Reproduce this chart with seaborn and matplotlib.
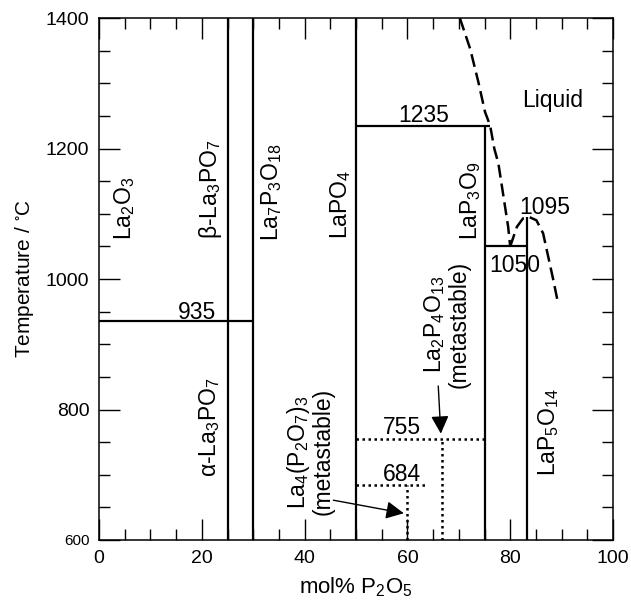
import numpy as np
import pandas as pd
import seaborn as sns
import matplotlib
matplotlib.use("Agg")
import matplotlib.pyplot as plt
from matplotlib.ticker import MultipleLocator

# phase boundaries (mol% P2O5, temperature in C)
vert_x = [25, 30, 50, 75, 83.33]
vert_top = [1400, 1400, 1400, 1235, 1095]
horiz_T = [935, 1235, 1050]
horiz_x0 = [0, 50, 75]
horiz_x1 = [30, 76.1, 83.33]

# metastable (dotted) lines
meta_T = [755, 684]
meta_x0 = [50, 50]
meta_x1 = [75, 63.7]
meta_vx = [66.67, 60]

# liquidus (dashed)
liq1_x = [70.2, 72.2, 73.8, 75.1, 76.1, 76.9, 77.7, 78.7, 79.6, 80.0]
liq1_T = [1400, 1353, 1302, 1256, 1235, 1200, 1177, 1126, 1080, 1050]
liq2_x = [80.0, 81.3, 82.5, 83.7, 85.1, 86.4, 87.4, 88.4, 89.2]
liq2_T = [1050, 1080, 1093, 1095, 1090, 1070, 1034, 998, 967]

# phase labels
phase_names = ["La$_2$O$_3$", "β-La$_3$PO$_7$", "La$_7$P$_3$O$_{18}$", "LaPO$_4$",
               "LaP$_3$O$_9$", "α-La$_3$PO$_7$", "LaP$_5$O$_{14}$",
               "La$_4$(P$_2$O$_7$)$_3$\n(metastable)", "La$_2$P$_4$O$_{13}$\n(metastable)"]
phase_x = [4.9, 21.6, 33.6, 46.9, 72.2, 21.6, 87.4, 41.0, 67.6]
phase_T = [1109, 1138, 1133, 1115, 1120, 773, 765, 735, 931]

temp_labels = ["1235", "1095", "1050", "935", "755", "684", "Liquid"]
temp_x = [63.1, 86.8, 80.9, 19.0, 58.9, 58.9, 88.3]
temp_T = [1251, 1110, 1021, 948, 772, 700, 1274]

sns.set_style("ticks")
plt.rcParams["font.family"] = ["Liberation Sans", "DejaVu Sans"]
plt.rcParams["mathtext.default"] = "regular"
plt.rcParams["text.color"] = "black"
plt.rcParams["axes.labelcolor"] = "black"
plt.rcParams["xtick.color"] = "black"
plt.rcParams["ytick.color"] = "black"

fig = plt.figure(figsize=(6.31, 6.01), dpi=100)
ax = fig.add_axes([0.1569, 0.1015, 0.8146, 0.8685])

ax.vlines(vert_x, 600, vert_top, color="black", lw=1.6)
ax.hlines(horiz_T, horiz_x0, horiz_x1, color="black", lw=1.6)
ax.hlines(meta_T, meta_x0, meta_x1, color="black", lw=1.8, linestyles=(0, (1, 1.4)))
ax.vlines(meta_vx, 600, meta_T, color="black", lw=1.8, linestyles=(0, (1, 1.4)))

liq1 = pd.DataFrame({"x": liq1_x, "T": liq1_T})
liq2 = pd.DataFrame({"x": liq2_x, "T": liq2_T})
for d in (liq1, liq2):
    sns.lineplot(data=d, x="x", y="T", sort=False, color="black", lw=1.8,
                 ax=ax, estimator=None)
for line in ax.get_lines():
    line.set_dashes((5.2, 2.4))

for name, x, t in zip(phase_names, phase_x, phase_T):
    ax.text(x, t, name, rotation=90, ha="center", va="center",
            multialignment="center", fontsize=16.5, linespacing=1.0)
for name, x, t in zip(temp_labels, temp_x, temp_T):
    ax.text(x, t, name, ha="center", va="center", fontsize=16.5)

arrow = dict(arrowstyle="-|>", color="black", lw=1, mutation_scale=27,
             shrinkA=0, shrinkB=0)
ax.annotate("", xy=(66.5, 763), xytext=(66.0, 836), arrowprops=arrow)
ax.annotate("", xy=(59.3, 641), xytext=(45.6, 661), arrowprops=arrow)

ax.set_xlim(0, 100)
ax.set_ylim(600, 1400)
ax.set_xticks([0, 20, 40, 60, 80, 100])
ax.set_yticks([600, 800, 1000, 1200, 1400])
ax.xaxis.set_minor_locator(MultipleLocator(5))
ax.yaxis.set_minor_locator(MultipleLocator(50))
ax.tick_params(which="both", direction="in", top=True, right=True,
               labeltop=False, labelright=False, width=1, color="black",
               labelcolor="black")
ax.tick_params(which="major", length=15, labelsize=14, pad=7)
ax.tick_params(which="minor", length=8)
for s in ax.spines.values():
    s.set_linewidth(1.1)
    s.set_color("black")
ax.get_yticklabels()[0].set_fontsize(11)

ax.set_xlabel("mol% P$_2$O$_5$", fontsize=16, labelpad=6)
ax.set_ylabel("Temperature / $^{\\circ}$C", fontsize=15, labelpad=7)

fig.savefig("out.png", dpi=100)
